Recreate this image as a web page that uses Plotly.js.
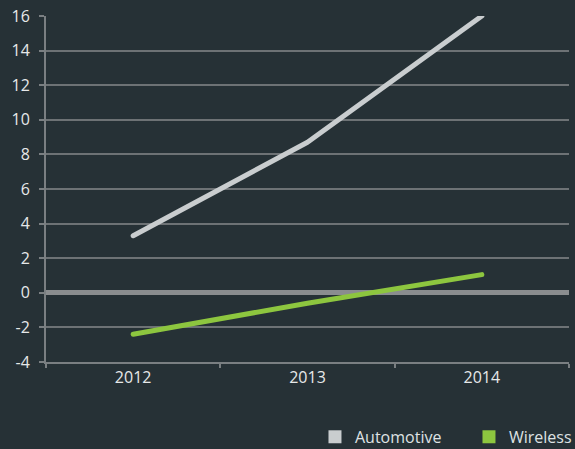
<!DOCTYPE html>
<html>
<head>
<meta charset="utf-8">
<script src="https://cdn.plot.ly/plotly-3.0.1.min.js"></script>
<style>
html,body{margin:0;padding:0;background:#263136;}
.scatterlayer path.js-line{stroke-linecap:round;stroke-linejoin:round;}
</style>
</head>
<body>
<div id="chart" style="width:575px;height:449px;"></div>
<script>
const years = ['2012', '2013', '2014'];
const automotive = [3.3, 8.7, 16.0];
const wireless = [-2.4, -0.6, 1.05];
const yTicks = [-4, -2, 0, 2, 4, 6, 8, 10, 12, 14, 16];

const autoColor = '#c9cdcf';
const wireColor = '#8dc63f';

const traces = [
  {x: years, y: automotive, type: 'scatter', mode: 'lines', name: 'Automotive',
   line: {color: autoColor, width: 5}, showlegend: false, hoverinfo: 'skip'},
  {x: years, y: wireless, type: 'scatter', mode: 'lines', name: 'Wireless',
   line: {color: wireColor, width: 5}, showlegend: false, hoverinfo: 'skip'},
  {x: [null], y: [null], type: 'scatter', mode: 'markers', name: 'Automotive',
   marker: {symbol: 'square', size: 13, color: autoColor}},
  {x: [null], y: [null], type: 'scatter', mode: 'markers', name: 'Wireless',
   marker: {symbol: 'square', size: 13, color: wireColor}}
];

const layout = {
  width: 575, height: 449,
  paper_bgcolor: '#263136', plot_bgcolor: '#263136',
  margin: {l: 46, r: 6, t: 16, b: 87, autoexpand: false},
  font: {family: 'Open Sans, sans-serif', color: '#e6e8e9', size: 16},
  showlegend: true,
  legend: {orientation: 'h', x: 0.5143, xanchor: 'left', yref: 'container', y: 0.027, yanchor: 'middle',
           entrywidth: 109, entrywidthmode: 'pixels',
           font: {size: 16, color: '#dfe2e3'}, bgcolor: 'rgba(0,0,0,0)'},
  xaxis: {
    type: 'category', categoryorder: 'array', categoryarray: years,
    range: [-0.5, 2.5], showgrid: false, zeroline: false,
    showline: true, linecolor: '#7a7f82', linewidth: 2,
    ticks: 'outside', tickson: 'boundaries', ticklen: 4, tickcolor: '#7a7f82', tickwidth: 2,
    tickfont: {size: 16, color: '#e6e8e9'}, fixedrange: true
  },
  yaxis: {
    range: [-4, 16], tickvals: yTicks, ticktext: yTicks.map(String),
    showgrid: true, gridcolor: '#6d7275', gridwidth: 2,
    zeroline: true, zerolinecolor: '#8a8d8f', zerolinewidth: 5,
    showline: true, linecolor: '#7a7f82', linewidth: 2,
    ticks: 'outside', ticklen: 5, tickcolor: '#7a7f82', tickwidth: 2,
    ticklabelstandoff: 6,
    tickfont: {size: 16, color: '#e6e8e9'}, fixedrange: true
  }
};

Plotly.newPlot('chart', traces, layout, {displayModeBar: false, staticPlot: true});
</script>
</body>
</html>
